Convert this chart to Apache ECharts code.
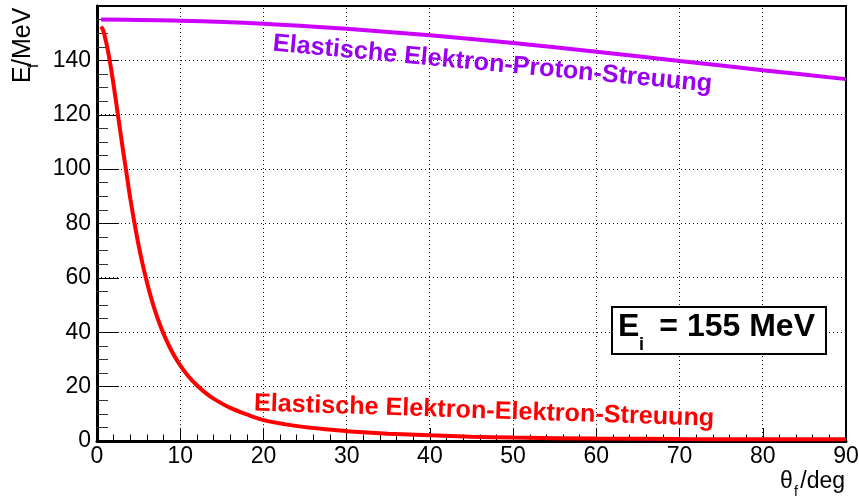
<!DOCTYPE html>
<html>
<head>
<meta charset="utf-8">
<title>Elastische Streuung bei E = 155 MeV</title>
<script src="https://cdn.jsdelivr.net/npm/echarts@6/dist/echarts.min.js"></script>
<style>
  html, body { margin: 0; padding: 0; background: #ffffff; }
  #chart { width: 859px; height: 497px; }
</style>
</head>
<body>
<div id="chart"></div>
<script>
// Scattering angle of the outgoing particle (deg) and its final energy (MeV)
const thetaElectron = [0.5, 0.75, 1, 1.25, 1.5, 1.75, 2, 2.25, 2.5, 2.75, 3, 3.25, 3.5, 3.75, 4, 4.5, 5, 5.5, 6, 6.5, 7, 7.5, 8, 9, 10, 11, 12, 13, 14, 16, 18, 20, 22.5, 25, 27.5, 30, 35, 40, 45, 50, 60, 70, 80, 90];
const energyElectron = [152.5, 151.0, 148.0, 144.5, 140.4, 135.8, 130.8, 125.6, 120.3, 114.9, 109.6, 104.4, 99.4, 94.2, 89.2, 80.2, 72.0, 64.8, 58.4, 52.7, 47.7, 43.3, 39.4, 32.9, 27.8, 23.7, 20.5, 17.8, 15.6, 12.2, 9.8, 7.7, 6.2, 5.1, 4.3, 3.6, 2.7, 2.1, 1.6, 1.25, 0.9, 0.7, 0.65, 0.6];

const thetaProton = [0.5, 10, 20, 30, 40, 50, 60, 70, 80, 90];
const energyProton = [155.0, 154.6, 153.5, 151.6, 149.2, 146.4, 143.2, 139.8, 136.4, 133.1];

const xTicks = [0, 10, 20, 30, 40, 50, 60, 70, 80, 90];
const yTicks = [0, 20, 40, 60, 80, 100, 120, 140];
const X_MIN = 0, X_MAX = 90, Y_MIN = 0, Y_MAX = 160;

const FONT = '"Liberation Sans", Arial, Helvetica, sans-serif';
const PURPLE_LINE = '#cc00ff';
const PURPLE_TEXT = '#9a00f0';
const RED = '#ff0000';

const pairs = (xs, ys) => xs.map((x, i) => [x, ys[i]]);
const snap = v => Math.round(v - 0.5) + 0.5;

// dotted grid lines at the major ticks, drawn through the axis scales
function gridRenderer(vertical) {
  return function (params, api) {
    const v = api.value(vertical ? 0 : 1);
    const a = vertical ? api.coord([v, Y_MIN]) : api.coord([X_MIN, v]);
    const b = vertical ? api.coord([v, Y_MAX]) : api.coord([X_MAX, v]);
    const shape = vertical
      ? { x1: snap(a[0]), y1: a[1], x2: snap(b[0]), y2: b[1] }
      : { x1: a[0], y1: snap(a[1]), x2: b[0], y2: snap(b[1]) };
    return {
      type: 'line',
      shape: shape,
      style: { stroke: '#111', lineWidth: 1, lineDash: [1, 3] }
    };
  };
}

const chart = echarts.init(document.getElementById('chart'), null, { renderer: 'canvas' });

chart.setOption({
  animation: false,
  backgroundColor: '#ffffff',
  grid: {
    left: 97, right: 13, top: 6, bottom: 56,
    containLabel: false,
    outerBoundsMode: 'none',
    show: true,
    borderColor: '#000',
    borderWidth: 2
  },
  xAxis: {
    type: 'value',
    min: X_MIN,
    max: X_MAX,
    interval: 10,
    axisLine: { show: true, onZero: false, lineStyle: { color: '#000', width: 3 } },
    axisTick: { show: true, inside: true, length: 13, lineStyle: { color: '#000', width: 1 } },
    minorTick: { show: true, splitNumber: 5, length: 6.5, lineStyle: { color: '#000', width: 1 } },
    axisLabel: { color: '#000', fontFamily: FONT, fontSize: 23, margin: 4 },
    splitLine: { show: false }
  },
  yAxis: {
    type: 'value',
    min: Y_MIN,
    max: Y_MAX,
    interval: 20,
    axisLine: { show: true, onZero: false, lineStyle: { color: '#000', width: 3 } },
    axisTick: { show: true, inside: true, length: 22, lineStyle: { color: '#000', width: 1 } },
    minorTick: { show: true, splitNumber: 4, length: 11, lineStyle: { color: '#333', width: 1 } },
    axisLabel: {
      color: '#000', fontFamily: FONT, fontSize: 23, margin: 6,
      formatter: v => (yTicks.indexOf(v) >= 0 ? String(v) : '')
    },
    splitLine: { show: false }
  },
  series: [
    {
      name: 'gridX',
      type: 'custom',
      silent: true,
      z: 1,
      data: xTicks.filter(v => v > X_MIN && v < X_MAX).map(v => [v, Y_MIN]),
      renderItem: gridRenderer(true)
    },
    {
      name: 'gridY',
      type: 'custom',
      silent: true,
      z: 1,
      data: yTicks.filter(v => v > Y_MIN).map(v => [X_MIN, v]),
      renderItem: gridRenderer(false)
    },
    {
      name: 'Elektron-Proton',
      type: 'line',
      data: pairs(thetaProton, energyProton),
      showSymbol: false,
      smooth: 0.3,
      lineStyle: { color: PURPLE_LINE, width: 4 },
      z: 3
    },
    {
      name: 'Elektron-Elektron',
      type: 'line',
      data: pairs(thetaElectron, energyElectron),
      showSymbol: false,
      smooth: 0.3,
      lineStyle: { color: RED, width: 4 },
      z: 3
    }
  ],
  graphic: [
    // curve captions
    {
      type: 'text', x: 273, y: 43.5, rotation: -5.35 * Math.PI / 180, z: 10,
      style: { text: 'Elastische Elektron-Proton-Streuung', fill: PURPLE_TEXT,
        font: 'bold 25.2px ' + FONT, textAlign: 'left', textVerticalAlign: 'middle' }
    },
    {
      type: 'text', x: 254, y: 403.5, rotation: -1.9 * Math.PI / 180, z: 10,
      style: { text: 'Elastische Elektron-Elektron-Streuung', fill: RED,
        font: 'bold 25.2px ' + FONT, textAlign: 'left', textVerticalAlign: 'middle' }
    },
    // beam energy box
    {
      type: 'rect', z: 10,
      shape: { x: 612, y: 307, width: 214, height: 47 },
      style: { fill: '#ffffff', stroke: '#000', lineWidth: 2 }
    },
    {
      type: 'text', x: 618, y: 327, z: 11,
      style: { text: 'E', fill: '#000', font: 'bold 32px ' + FONT, textAlign: 'left', textVerticalAlign: 'middle' }
    },
    {
      type: 'text', x: 639, y: 345, z: 11,
      style: { text: 'i', fill: '#000', font: 'bold 18px ' + FONT, textAlign: 'left', textVerticalAlign: 'middle' }
    },
    {
      type: 'text', x: 815, y: 327, z: 11,
      style: { text: '= 155 MeV', fill: '#000', font: 'bold 32px ' + FONT, textAlign: 'right', textVerticalAlign: 'middle' }
    },
    // y axis title  E_f/MeV (rotated)
    {
      type: 'group', x: 32, y: 83, rotation: Math.PI / 2, z: 10,
      children: [
        { type: 'text', x: 0, y: -9, style: { text: 'E', fill: '#000', font: '25px ' + FONT, textAlign: 'left', textVerticalAlign: 'middle' } },
        { type: 'text', x: 15, y: 2, style: { text: 'f', fill: '#000', font: '15px ' + FONT, textAlign: 'left', textVerticalAlign: 'middle' } },
        { type: 'text', x: 17, y: -9, style: { text: '/MeV', fill: '#000', font: '25px ' + FONT, textAlign: 'left', textVerticalAlign: 'middle' } }
      ]
    },
    // x axis title  θ_f/deg
    {
      type: 'text', x: 780, y: 482, z: 10,
      style: { text: 'θ', fill: '#000', font: '23px ' + FONT, textAlign: 'left', textVerticalAlign: 'middle' }
    },
    {
      type: 'text', x: 794, y: 492, z: 10,
      style: { text: 'f', fill: '#000', font: '14px ' + FONT, textAlign: 'left', textVerticalAlign: 'middle' }
    },
    {
      type: 'text', x: 845, y: 482, z: 10,
      style: { text: '/deg', fill: '#000', font: '23px ' + FONT, textAlign: 'right', textVerticalAlign: 'middle' }
    }
  ]
});
</script>
</body>
</html>
